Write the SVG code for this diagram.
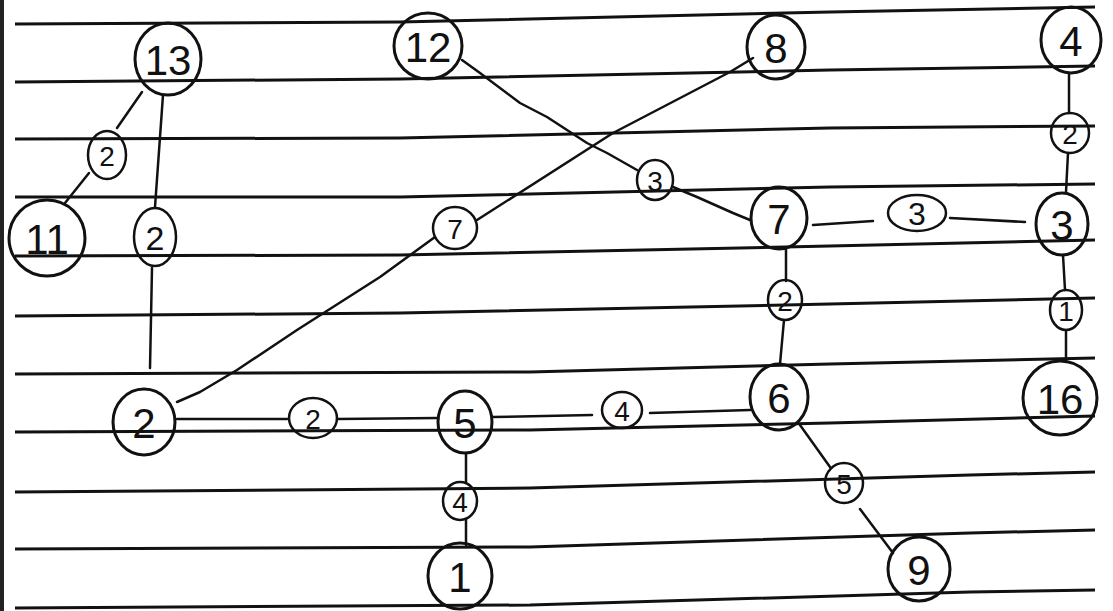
<svg xmlns="http://www.w3.org/2000/svg" width="1113" height="611" viewBox="0 0 1113 611">
<style>
.paper{fill:none;stroke:#111;stroke-width:3}
.edge{fill:none;stroke:#111;stroke-width:2.5;stroke-linecap:round;stroke-linejoin:round}
.node ellipse{fill:none;stroke:#111;stroke-width:3}
.wt ellipse{fill:none;stroke:#111;stroke-width:2.5}
.node text{font-family:"Liberation Sans",Arial,sans-serif;font-size:42px;fill:#111;text-anchor:middle;dominant-baseline:central}
.wt text{font-family:"Liberation Sans",Arial,sans-serif;font-size:28px;fill:#111;text-anchor:middle;dominant-baseline:central}
</style>
<rect width="1113" height="611" fill="#ffffff"/>
<rect x="0" y="0" width="4" height="611" fill="#222"/>
<g id="paper-lines">
<path class="paper" d="M15,24 L400,22 L830,12 L1095,7"/>
<path class="paper" d="M15,82 L400,79 L830,70 L1095,66"/>
<path class="paper" d="M15,139 L400,138 L830,128 L1095,126"/>
<path class="paper" d="M15,197 L400,197 L830,187 L1095,184"/>
<path class="paper" d="M15,256 L400,255 L830,246 L1095,240"/>
<path class="paper" d="M15,316 L400,313 L830,304 L1095,298"/>
<path class="paper" d="M15,374 L530,372 L830,364 L1095,358"/>
<path class="paper" d="M15,432 L530,430 L830,423 L1095,416"/>
<path class="paper" d="M15,492 L530,488 L970,475 L1095,472"/>
<path class="paper" d="M15,549 L530,547 L970,533 L1095,530"/>
<path class="paper" d="M15,608 L530,605 L970,592 L1095,590"/>
</g>
<g id="connectors">
<path class="edge" d="M142,92 L117,128"/>
<path class="edge" d="M89,173 L65,203"/>
<path class="edge" d="M163,95 L155,207"/>
<path class="edge" d="M152,268 L150,368"/>
<path class="edge" d="M462,60 L480,73 L520,103 L547,117 L567,130 L587,143 L607,153 L637,170"/>
<path class="edge" d="M673,187 L697,197 L733,213 L750,220"/>
<path class="edge" d="M753,58 L730,72 L613,133 L477,220"/>
<path class="edge" d="M435,237 L380,277 L297,330 L237,370 L200,392 L177,402"/>
<path class="edge" d="M1069,73 L1069,113"/>
<path class="edge" d="M1068,153 L1066,192"/>
<path class="edge" d="M813,225 L873,221"/>
<path class="edge" d="M950,218 L1025,222"/>
<path class="edge" d="M1063,255 L1065,290"/>
<path class="edge" d="M1066,330 L1066,362"/>
<path class="edge" d="M786,250 L786,281"/>
<path class="edge" d="M784,320 L780,364"/>
<path class="edge" d="M177,419 L287,419"/>
<path class="edge" d="M337,419 L438,418"/>
<path class="edge" d="M492,417 L592,415"/>
<path class="edge" d="M650,413 L750,410"/>
<path class="edge" d="M466,453 L466,483"/>
<path class="edge" d="M466,520 L466,545"/>
<path class="edge" d="M800,425 L830,467"/>
<path class="edge" d="M860,509 L893,553"/>
</g>
<g id="weights">
<g class="wt" id="w-13-11"><ellipse cx="107" cy="155" rx="19" ry="24"/><text x="107" y="156">2</text></g>
<g class="wt" id="w-13-2"><ellipse cx="155" cy="237" rx="21" ry="29"/><text x="155" y="238" style="font-size:34px">2</text></g>
<g class="wt" id="w-12-7"><ellipse cx="655" cy="180" rx="18" ry="20"/><text x="655" y="181">3</text></g>
<g class="wt" id="w-8-2"><ellipse cx="455" cy="228" rx="22" ry="21"/><text x="455" y="229">7</text></g>
<g class="wt" id="w-4-3"><ellipse cx="1070" cy="133" rx="19" ry="20"/><text x="1070" y="134">2</text></g>
<g class="wt" id="w-7-3"><ellipse cx="917" cy="213" rx="29" ry="18"/><text x="917" y="214" style="font-size:32px">3</text></g>
<g class="wt" id="w-3-16"><ellipse cx="1066" cy="310" rx="16" ry="20"/><text x="1066" y="311">1</text></g>
<g class="wt" id="w-7-6"><ellipse cx="785" cy="300" rx="17" ry="20"/><text x="785" y="301">2</text></g>
<g class="wt" id="w-2-5"><ellipse cx="313" cy="418" rx="24" ry="20"/><text x="313" y="419">2</text></g>
<g class="wt" id="w-5-6"><ellipse cx="622" cy="410" rx="20" ry="18"/><text x="622" y="411">4</text></g>
<g class="wt" id="w-5-1"><ellipse cx="460" cy="501" rx="17" ry="19"/><text x="460" y="502">4</text></g>
<g class="wt" id="w-6-9"><ellipse cx="844" cy="483" rx="19" ry="20"/><text x="844" y="484">5</text></g>
</g>
<g class="node" id="n13"><ellipse cx="168" cy="59" rx="33" ry="36"/><text x="168" y="60">13</text></g>
<g class="node" id="n11"><ellipse cx="47" cy="238" rx="38" ry="38"/><text x="47" y="239">11</text></g>
<g class="node" id="n12"><ellipse cx="428" cy="46" rx="34" ry="33"/><text x="428" y="47">12</text></g>
<g class="node" id="n8"><ellipse cx="776" cy="47" rx="29" ry="32"/><text x="776" y="48">8</text></g>
<g class="node" id="n4"><ellipse cx="1071" cy="40" rx="30" ry="33"/><text x="1071" y="41">4</text></g>
<g class="node" id="n7"><ellipse cx="779" cy="218" rx="28" ry="31"/><text x="779" y="219">7</text></g>
<g class="node" id="n3"><ellipse cx="1062" cy="224" rx="26" ry="31"/><text x="1062" y="225">3</text></g>
<g class="node" id="n16"><ellipse cx="1060" cy="398" rx="37" ry="37"/><text x="1060" y="399">16</text></g>
<g class="node" id="n2"><ellipse cx="144" cy="422" rx="31" ry="33"/><text x="144" y="423">2</text></g>
<g class="node" id="n5"><ellipse cx="465" cy="422" rx="27" ry="31"/><text x="465" y="423">5</text></g>
<g class="node" id="n6"><ellipse cx="779" cy="397" rx="29" ry="33"/><text x="779" y="398">6</text></g>
<g class="node" id="n1"><ellipse cx="460" cy="576" rx="32" ry="33"/><text x="460" y="577">1</text></g>
<g class="node" id="n9"><ellipse cx="919" cy="569" rx="31" ry="32"/><text x="919" y="570">9</text></g>
</svg>
